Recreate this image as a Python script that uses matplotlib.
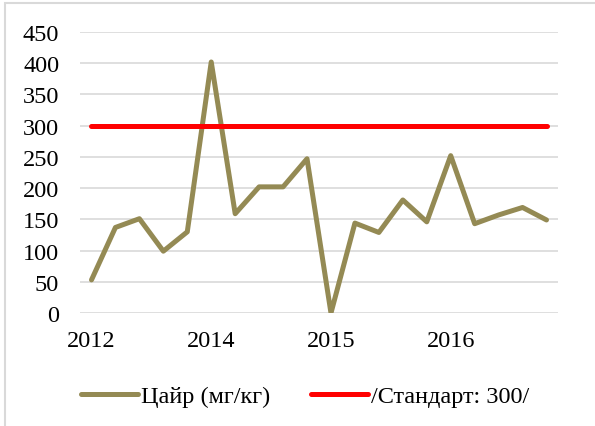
import matplotlib.pyplot as plt
from matplotlib.patches import Rectangle

# data
periods = list(range(20))
tick_pos = [0, 5, 10, 15]
tick_labels = ['2012', '2014', '2015', '2016']
zinc = [53, 137, 151, 99, 130, 402, 159, 202, 202, 247,
        0, 144, 129, 181, 146, 252, 143, 157, 169, 149]
standard = [300] * 20

plt.rcParams['font.family'] = ['Liberation Serif', 'DejaVu Serif']

fig = plt.figure(figsize=(5.95, 4.27), dpi=100)
ax = fig.add_axes([80 / 595, 1 - 314 / 427, 478 / 595, 281 / 427])

ax.plot(periods, zinc, color='#948A54', lw=3.6, solid_capstyle='round',
        solid_joinstyle='round', label='Цайр (мг/кг)', zorder=3)
ax.plot(periods, standard, color='#FF0000', lw=3.6, solid_capstyle='round',
        label='/Стандарт: 300/', zorder=3)

ax.set_xlim(-0.48, 19.48)
ax.set_ylim(0, 450)
ax.set_yticks(range(0, 451, 50))
ax.set_xticks(tick_pos)
ax.set_xticklabels(tick_labels)
ax.tick_params(length=0, labelsize=17.5, colors='black')
ax.tick_params(axis='y', pad=15)
ax.tick_params(axis='x', pad=12)
ax.grid(axis='y', color='#D9D9D9', lw=1.2)
ax.set_axisbelow(True)
for s in ax.spines.values():
    s.set_visible(False)

ax.legend(loc='center', bbox_to_anchor=(305 / 595, 1 - 397 / 427),
          bbox_transform=fig.transFigure, ncol=2, frameon=False,
          fontsize=17.5, handlelength=2.35, handletextpad=0.12,
          columnspacing=1.65)

# outer chart border
fig.patches.append(Rectangle((5 / 595, -0.1), 2, 1.1 - 4 / 427,
                             transform=fig.transFigure, fill=False,
                             edgecolor='#D9D9D9', lw=1.5))

fig.savefig('out.png', dpi=100)
